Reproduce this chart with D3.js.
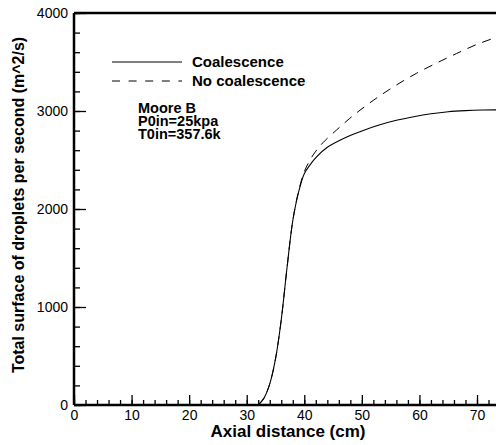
<!DOCTYPE html>
<html>
<head>
<meta charset="utf-8">
<script src="https://cdn.jsdelivr.net/npm/d3@7"></script>
<style>
  body { margin: 0; background: #fff; }
  svg { display: block; font-family: "Liberation Sans", Arial, sans-serif; }
  .axis text { font-size: 14px; fill: #000; }
  .axis path { display: none; }
  .axis line { stroke: #000; stroke-width: 1.3; }
</style>
</head>
<body>
<div id="chart"></div>
<script>
// x positions (cm) and values (m^2/s)
const xCoal = [32, 33, 34, 35, 36, 37, 38, 39, 40, 41, 42, 44, 47, 50, 53, 56, 59, 62, 65, 68, 71, 74];
const yCoal = [0, 70, 215, 470, 870, 1400, 1880, 2170, 2360, 2450, 2525, 2630, 2725, 2797, 2857, 2905, 2942, 2972, 2993, 3004, 3010, 3012];

const xNoCoal = [32, 33, 34, 35, 36, 37, 38, 39, 40, 41, 42, 43.3, 45.6, 47.9, 50.5, 53, 56, 59.5, 63, 66.4, 70, 74];
const yNoCoal = [0, 70, 215, 470, 870, 1400, 1880, 2180, 2380, 2500, 2590, 2680, 2806, 2925, 3045, 3150, 3265, 3385, 3490, 3585, 3680, 3765];

const xTicks = [0, 10, 20, 30, 40, 50, 60, 70];
const yTicks = [0, 1000, 2000, 3000, 4000];

const legendLabels = ["Coalescence", "No coalescence"];
const noteLines = ["Moore B", "P0in=25kpa", "T0in=357.6k"];

const W = 496, H = 445;
const margin = {top: 13, right: 0, bottom: 40, left: 74};
const width = W - margin.left - margin.right;
const height = H - margin.top - margin.bottom;

const svg = d3.select("#chart").append("svg")
    .attr("width", W)
    .attr("height", H);

const g = svg.append("g")
    .attr("transform", `translate(${margin.left},${margin.top})`);

const x = d3.scaleLinear().domain([0, 73.3]).range([0, width]);
const y = d3.scaleLinear().domain([0, 4000]).range([height, 0]);

// minor ticks
g.append("g")
    .attr("class", "axis")
    .attr("transform", `translate(0,${height})`)
    .call(d3.axisBottom(x).tickValues(d3.range(0, 74, 2)).tickSize(-5).tickFormat(""));
g.append("g")
    .attr("class", "axis")
    .call(d3.axisLeft(y).tickValues(d3.range(0, 4001, 200)).tickSize(-6).tickFormat(""));

// major ticks + labels
g.append("g")
    .attr("class", "axis")
    .attr("transform", `translate(0,${height})`)
    .call(d3.axisBottom(x).tickValues(xTicks).tickSize(-10).tickPadding(5).tickFormat(d3.format("d")));
g.append("g")
    .attr("class", "axis")
    .call(d3.axisLeft(y).tickValues(yTicks).tickSize(-12).tickPadding(6).tickFormat(d3.format("d")));

// frame lines
g.append("line").attr("x1", 0).attr("x2", 0).attr("y1", 0).attr("y2", height)
    .attr("stroke", "#000").attr("stroke-width", 2.5);
g.append("line").attr("x1", 0).attr("x2", width).attr("y1", height).attr("y2", height)
    .attr("stroke", "#000").attr("stroke-width", 2.5);
g.append("line").attr("x1", 0).attr("x2", width).attr("y1", 0).attr("y2", 0)
    .attr("stroke", "#000").attr("stroke-width", 2.5);

const line = d3.line()
    .x(d => x(d[0]))
    .y(d => y(d[1]))
    .curve(d3.curveCatmullRom.alpha(0.5));

g.append("path")
    .datum(d3.zip(xNoCoal, yNoCoal))
    .attr("fill", "none")
    .attr("stroke", "#000")
    .attr("stroke-width", 1)
    .attr("stroke-dasharray", "9,7")
    .attr("d", line);

g.append("path")
    .datum(d3.zip(xCoal, yCoal))
    .attr("fill", "none")
    .attr("stroke", "#000")
    .attr("stroke-width", 1.1)
    .attr("d", line);

// legend
const legend = svg.append("g")
    .selectAll("g")
    .data(legendLabels)
    .enter().append("g")
    .attr("transform", (d, i) => `translate(112,${62 + i * 19})`);

legend.append("line")
    .attr("x1", 0).attr("x2", 70)
    .attr("stroke", "#000")
    .attr("stroke-width", 1)
    .attr("stroke-dasharray", (d, i) => i === 0 ? null : "8,8.6");

legend.append("text")
    .attr("x", 80)
    .attr("dy", "0.35em")
    .attr("font-size", 15)
    .attr("font-weight", "bold")
    .text(d => d);

// note
svg.append("g")
    .selectAll("text")
    .data(noteLines)
    .enter().append("text")
    .attr("x", 138)
    .attr("y", (d, i) => 113 + i * 13)
    .attr("font-size", 14.5)
    .attr("font-weight", "bold")
    .text(d => d);

// axis titles
svg.append("text")
    .attr("x", 288)
    .attr("y", 437)
    .attr("text-anchor", "middle")
    .attr("font-size", 17)
    .attr("font-weight", "bold")
    .text("Axial distance (cm)");

svg.append("text")
    .attr("transform", "translate(24,205) rotate(-90)")
    .attr("text-anchor", "middle")
    .attr("font-size", 16)
    .attr("font-weight", "bold")
    .text("Total surface of droplets per second (m^2/s)");
</script>
</body>
</html>
